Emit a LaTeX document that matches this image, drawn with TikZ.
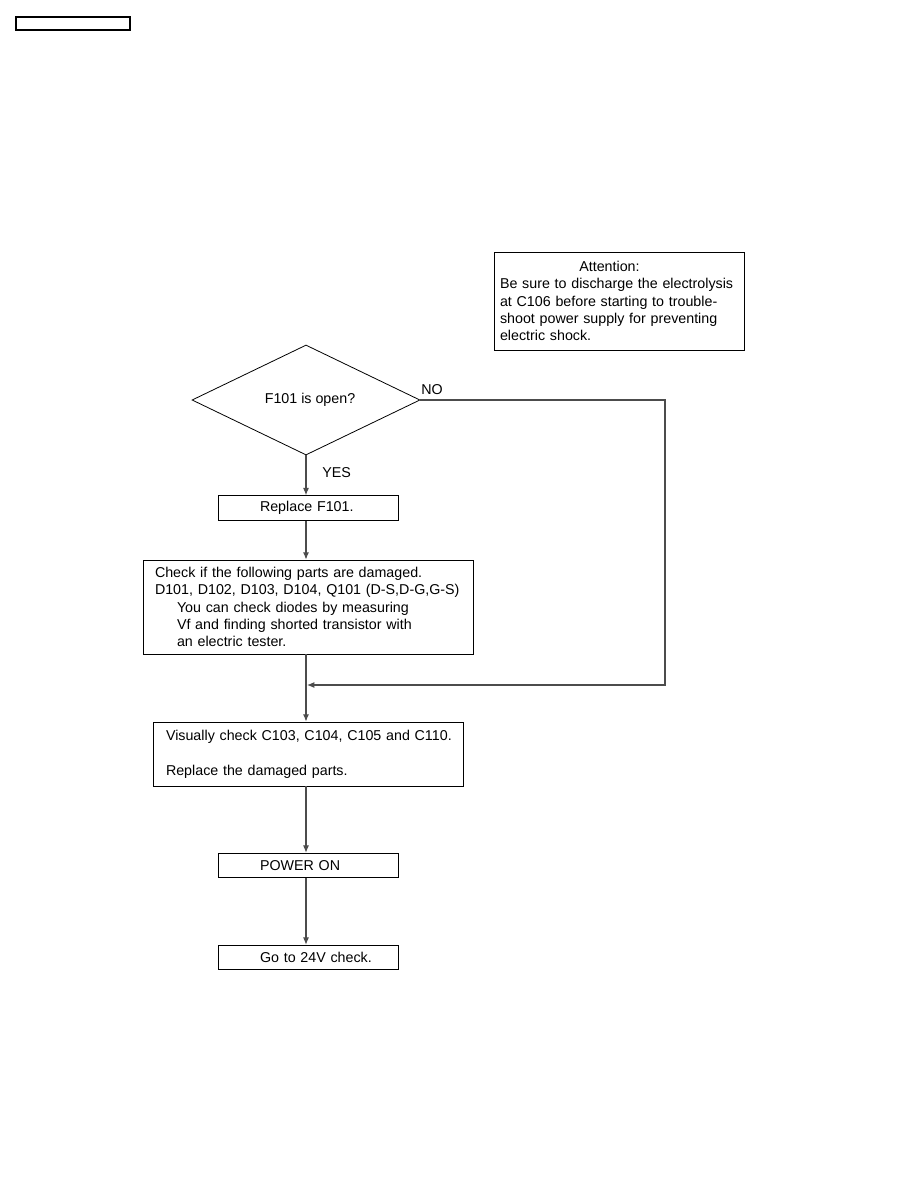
\documentclass[tikz,border=0pt]{standalone}
\usepackage{fontspec}
\setmainfont{Liberation Sans}
\usetikzlibrary{shapes.geometric,arrows.meta}

\begin{document}
\begin{tikzpicture}[
  x=0.75pt, y=-0.75pt,
  font=\fontsize{10.7}{13}\selectfont,
  box/.style={rectangle, draw, line width=0.6pt, align=left, inner ysep=0pt},
  smallbox/.style={box, text width=135pt, inner xsep=0pt, minimum height=18.5pt},
  decision/.style={diamond, draw, line width=0.6pt, inner sep=0pt, aspect=2.05,
    minimum width=171pt, minimum height=82.5pt},
  flow/.style={draw=black!70, line width=0.8pt, -{Latex[length=5.5pt,width=4.5pt]}},
  tag/.style={inner sep=0pt}
]
\useasboundingbox (0,0) rectangle (918,1188);

% page header frame
\node[draw, line width=0.8pt, minimum width=85.5pt, minimum height=9.75pt] (header) at (73,23.5) {};

% attention note
\node[box, text width=178.5pt, inner xsep=4.5pt, minimum height=73.5pt] (attn) at (619,301)
  {\hspace*{59.5pt}Attention:\\
   Be sure to discharge the electrolysis\\
   at C106 before starting to trouble-\\
   shoot power supply for preventing\\
   electric shock.};

% flow
\node[decision] (fuse) at (306,400) {\hspace*{6pt}F101 is open?};
\node[smallbox] (replace) at (308,508) {\hspace*{31.5pt}Replace F101.};
\node[box, text width=231pt, inner xsep=8.25pt, minimum height=70.5pt] (parts) at (308,607)
  {\hspace*{0.75pt}Check if the following parts are damaged.\\
   \hspace*{0.75pt}D101, D102, D103, D104, Q101 (D-S,D-G,G-S)\\
   \hspace*{17.25pt}You can check diodes by measuring\\
   \hspace*{17.25pt}Vf and finding shorted transistor with\\
   \hspace*{17.25pt}an electric tester.};
\node[box, text width=216pt, inner xsep=8.25pt, minimum height=48pt] (visual) at (308,754)
  {\hspace*{1.5pt}Visually check C103, C104, C105 and C110.\\[13pt]
   \hspace*{1.5pt}Replace the damaged parts.};
\node[smallbox] (power) at (308,865.5) {\hspace*{31.5pt}POWER ON};
\node[smallbox] (next) at (308,957.5) {\hspace*{31.5pt}Go to 24V check.};

\coordinate (corner1) at (665,400);
\coordinate (corner2) at (665,685);
\coordinate (join) at (307,685);

\draw[flow] (fuse.south) -- (fuse.south |- replace.north);
\draw[flow] (fuse.south |- replace.south) -- (fuse.south |- parts.north);
\draw[flow] (fuse.south |- parts.south) -- (fuse.south |- visual.north);
\draw[flow] (fuse.east) -- (corner1) -- (corner2) -- (join);
\draw[flow] (fuse.south |- visual.south) -- (fuse.south |- power.north);
\draw[flow] (fuse.south |- power.south) -- (fuse.south |- next.north);

\node[tag, anchor=west] (no) at (421,390) {NO};
\node[tag, anchor=west] (yes) at (322,473) {YES};
\end{tikzpicture}
\end{document}
